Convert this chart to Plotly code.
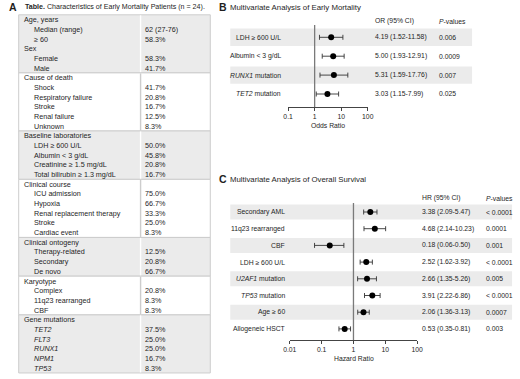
import plotly.graph_objects as go

W, H = 520, 379

# ---------------- Data ----------------
# Panel A table
tbl_labels = [
    "Age, years", "Median (range)", "≥ 60", "Sex", "Female", "Male",
    "Cause of death", "Shock", "Respiratory failure", "Stroke", "Renal failure", "Unknown",
    "Baseline laboratories", "LDH ≥ 600 U/L", "Albumin &lt; 3 g/dL", "Creatinine ≥ 1.5 mg/dL", "Total bilirubin ≥ 1.3 mg/dL",
    "Clinical course", "ICU admission", "Hypoxia", "Renal replacement therapy", "Stroke", "Cardiac event",
    "Clinical ontogeny", "Therapy-related", "Secondary", "De novo",
    "Karyotype", "Complex", "11q23 rearranged", "CBF",
    "Gene mutations", "<i>TET2</i>", "<i>FLT3</i>", "<i>RUNX1</i>", "<i>NPM1</i>", "<i>TP53</i>",
]
tbl_values = [
    "", "62 (27-76)", "58.3%", "", "58.3%", "41.7%",
    "", "41.7%", "20.8%", "16.7%", "12.5%", "8.3%",
    "", "50.0%", "45.8%", "20.8%", "16.7%",
    "", "75.0%", "66.7%", "33.3%", "25.0%", "8.3%",
    "", "12.5%", "20.8%", "66.7%",
    "", "20.8%", "8.3%", "8.3%",
    "", "37.5%", "25.0%", "25.0%", "16.7%", "8.3%",
]
tbl_header = [
    1, 0, 0, 1, 0, 0,
    1, 0, 0, 0, 0, 0,
    1, 0, 0, 0, 0,
    1, 0, 0, 0, 0, 0,
    1, 0, 0, 0,
    1, 0, 0, 0,
    1, 0, 0, 0, 0, 0,
]
tbl_section_sizes = [6, 6, 5, 6, 4, 4, 6]

# Panel B: early mortality (odds ratios)
b_labels = ["LDH ≥ 600 U/L", "Albumin &lt; 3 g/dL", "<i>RUNX1</i> mutation", "<i>TET2</i> mutation"]
b_or = [4.19, 5.00, 5.31, 3.03]
b_lo = [1.52, 1.93, 1.59, 1.15]
b_hi = [11.58, 12.91, 17.76, 7.99]
b_ci_text = ["4.19 (1.52-11.58)", "5.00 (1.93-12.91)", "5.31 (1.59-17.76)", "3.03 (1.15-7.99)"]
b_p = ["0.006", "0.0009", "0.007", "0.025"]
b_ticks = [0.1, 1, 10, 100]
b_ticktext = ["0.1", "1", "10", "100"]

# Panel C: overall survival (hazard ratios)
c_labels = ["Secondary AML", "11q23 rearranged", "CBF", "LDH ≥ 600 U/L",
            "<i>U2AF1</i> mutation", "<i>TP53</i> mutation", "Age ≥ 60", "Allogeneic HSCT"]
c_hr = [3.38, 4.68, 0.18, 2.52, 2.66, 3.91, 2.06, 0.53]
c_lo = [2.09, 2.14, 0.06, 1.62, 1.35, 2.22, 1.36, 0.35]
c_hi = [5.47, 10.23, 0.50, 3.92, 5.26, 6.86, 3.13, 0.81]
c_ci_text = ["3.38 (2.09-5.47)", "4.68 (2.14-10.23)", "0.18 (0.06-0.50)", "2.52 (1.62-3.92)",
             "2.66 (1.35-5.26)", "3.91 (2.22-6.86)", "2.06 (1.36-3.13)", "0.53 (0.35-0.81)"]
c_p = ["&lt; 0.0001", "0.0001", "0.001", "&lt; 0.0001", "0.005", "&lt; 0.0001", "0.0007", "0.003"]
c_ticks = [0.01, 0.1, 1, 10, 100]
c_ticktext = ["0.01", "0.1", "1", "10", "100"]

# ---------------- Helpers ----------------
FONT = "Liberation Sans, Arial, Helvetica, sans-serif"
TXT = "#1e1e1e"
SHADE = "#ebebeb"
BORDER = "#cdcdcd"


def X(p):
    return p / W


def Y(p):
    return 1 - p / H


shapes = []
annotations = []


def text(t, x, y, size=7, anchor="left", xref="paper", yref="paper", color=TXT):
    annotations.append(dict(text=t, x=x, y=y, xref=xref, yref=yref, xanchor=anchor,
                            yanchor="middle", showarrow=False, borderpad=0,
                            font=dict(size=size, color=color, family=FONT)))


# ---------------- Panel A ----------------
text("<b>A</b>", X(1.5), Y(7), size=10.5)
text("<b>Table.</b> Characteristics of Early Mortality Patients (n = 24).", X(17), Y(7), size=7.1)

t_top, t_pitch = 14.8, 9.68
t_left, t_div, t_right = 12, 137, 208.5
start = 0
for si, n in enumerate(tbl_section_sizes):
    y0 = t_top + start * t_pitch
    y1 = t_top + (start + n) * t_pitch
    shaded = si % 2 == 0
    shapes.append(dict(type="rect", xref="paper", yref="paper", x0=X(t_left), x1=X(t_right),
                       y0=Y(y1), y1=Y(y0), fillcolor=SHADE if shaded else "white",
                       line=dict(color=BORDER, width=1), layer="below"))
    shapes.append(dict(type="line", xref="paper", yref="paper", x0=X(t_div), x1=X(t_div),
                       y0=Y(y1 - 0.5), y1=Y(y0 + 0.5),
                       line=dict(color="white" if shaded else BORDER, width=1.4), layer="below"))
    start += n

for i, (lab, val, hd) in enumerate(zip(tbl_labels, tbl_values, tbl_header)):
    yc = t_top + (i + 0.5) * t_pitch
    text(lab, X(16 if hd else 27), Y(yc), size=7.2)
    if val:
        text(val, X(141), Y(yc), size=7.2)

# ---------------- Panel B ----------------
text("<b>B</b>", X(216.5), Y(7), size=10.5)
text("Multivariate Analysis of Early Mortality", X(228), Y(7), size=7.8)

B_row0, B_pitch, B_bottom, B_top = 37.3, 18.9, 107.0, 20.0
b_rng = [(B_bottom - B_row0) / B_pitch, (B_top - B_row0) / B_pitch]
b_y = list(range(len(b_labels)))

fig = go.Figure()
fig.add_trace(go.Scatter(
    x=b_or, y=b_y, mode="markers", xaxis="x", yaxis="y", cliponaxis=False,
    marker=dict(color="black", size=6),
    error_x=dict(type="data", symmetric=False,
                 array=[h - o for h, o in zip(b_hi, b_or)],
                 arrayminus=[o - l for o, l in zip(b_or, b_lo)],
                 color="#333333", thickness=0.9, width=2.5),
    hoverinfo="skip"))

for i in b_y:
    if i % 2 == 0:
        shapes.append(dict(type="rect", xref="paper", yref="y", x0=X(229), x1=X(477),
                           y0=i - 0.46, y1=i + 0.46, fillcolor=SHADE, line=dict(width=0),
                           layer="below"))
    text(b_labels[i], X(282), i, size=6.8, anchor="right", yref="y")
    text(b_ci_text[i], X(376), i, size=6.8, yref="y")
    text(b_p[i], X(442), i, size=6.8, yref="y")

text("OR (95% CI)", X(376), Y(21.5), size=6.8)
text("<i>P</i>-values", X(442), Y(21.5), size=6.8)
text("Odds Ratio", X(329), Y(125.5), size=6.8, anchor="center")
shapes.append(dict(type="line", xref="x", yref="y", x0=1, x1=1,
                   y0=(25 - B_row0) / B_pitch, y1=b_rng[0],
                   line=dict(color="#7a7a7a", width=1.3), layer="below"))

# ---------------- Panel C ----------------
text("<b>C</b>", X(216.5), Y(179), size=10.5)
text("Multivariate Analysis of Overall Survival", X(228), Y(179), size=7.8)

C_row0, C_pitch, C_bottom, C_top = 212.0, 16.7, 340.0, 200.0
c_rng = [(C_bottom - C_row0) / C_pitch, (C_top - C_row0) / C_pitch]
c_y = list(range(len(c_labels)))

fig.add_trace(go.Scatter(
    x=c_hr, y=c_y, mode="markers", xaxis="x2", yaxis="y2", cliponaxis=False,
    marker=dict(color="black", size=6),
    error_x=dict(type="data", symmetric=False,
                 array=[h - o for h, o in zip(c_hi, c_hr)],
                 arrayminus=[o - l for o, l in zip(c_hr, c_lo)],
                 color="#333333", thickness=0.9, width=2.5),
    hoverinfo="skip"))

for i in c_y:
    if i % 2 == 0:
        shapes.append(dict(type="rect", xref="paper", yref="y2", x0=X(229), x1=X(518),
                           y0=i - 0.45, y1=i + 0.45, fillcolor=SHADE, line=dict(width=0),
                           layer="below"))
    text(c_labels[i], X(286), i, size=6.8, anchor="right", yref="y2")
    text(c_ci_text[i], X(425), i, size=6.8, yref="y2")
    text(c_p[i], X(490), i, size=6.8, yref="y2")

text("HR (95% CI)", X(425), Y(198), size=6.8)
text("<i>P</i>-values", X(490), Y(198), size=6.8)
text("Hazard Ratio", X(355.5), Y(358), size=6.8, anchor="center")
shapes.append(dict(type="line", xref="x2", yref="y2", x0=1, x1=1,
                   y0=(203 - C_row0) / C_pitch, y1=c_rng[0],
                   line=dict(color="#7a7a7a", width=1.3), layer="below"))

axis_common = dict(type="log", showgrid=False, zeroline=False, showline=True,
                   linecolor="#444444", linewidth=0.9, ticks="outside", ticklen=3,
                   tickwidth=0.9, tickcolor="#444444",
                   tickfont=dict(size=6.8, color=TXT, family=FONT), fixedrange=True)

fig.update_layout(
    width=W, height=H, margin=dict(l=0, r=0, t=0, b=0),
    paper_bgcolor="white", plot_bgcolor="rgba(0,0,0,0)", showlegend=False,
    font=dict(family=FONT, color=TXT),
    xaxis=dict(domain=[X(288.3), X(370.0)], range=[-1, 2], anchor="y",
               tickvals=b_ticks, ticktext=b_ticktext, **axis_common),
    yaxis=dict(domain=[Y(B_bottom), Y(B_top)], range=b_rng, visible=False, fixedrange=True),
    xaxis2=dict(domain=[X(290.0), X(420.7)], range=[-2, 2], anchor="y2",
                tickvals=c_ticks, ticktext=c_ticktext, **axis_common),
    yaxis2=dict(domain=[Y(C_bottom), Y(C_top)], range=c_rng, visible=False, fixedrange=True),
    shapes=shapes, annotations=annotations,
)

fig.write_html("out.html", config={"displayModeBar": False},
               post_script="document.body.style.margin='0px';document.body.style.overflow='hidden';")
